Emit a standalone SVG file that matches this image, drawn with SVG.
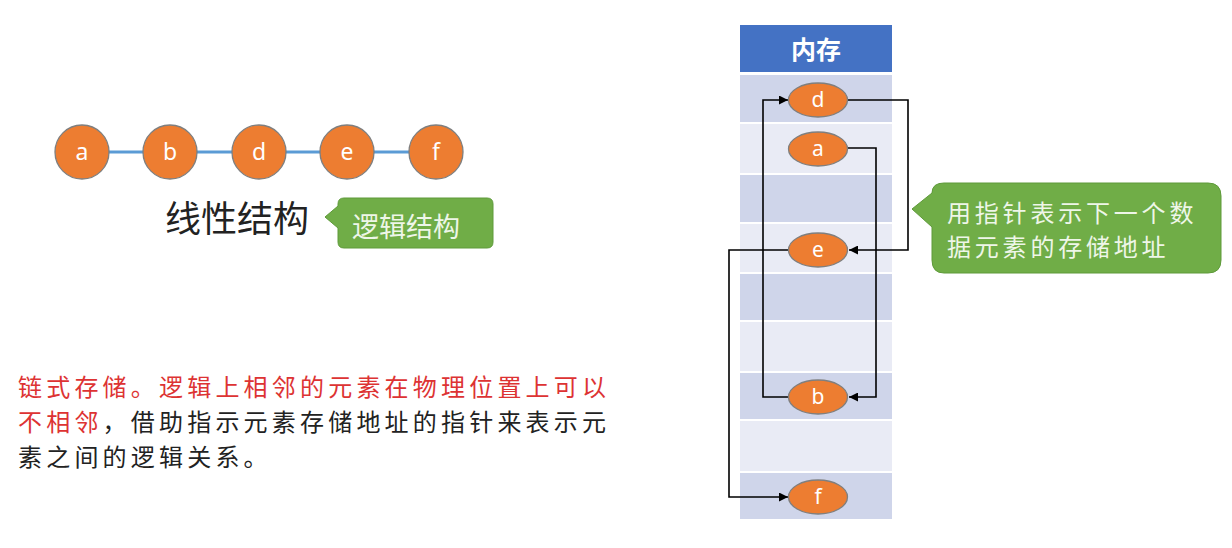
<svg xmlns="http://www.w3.org/2000/svg" width="1232" height="548" viewBox="0 0 1232 548">
<style>
.node{fill:#ED7D31;stroke:#7F7F7F;stroke-width:1.3}
.lbl{font-family:"Noto Sans","Liberation Sans",sans-serif;fill:#FFFFFF;text-anchor:middle}
.cjk{font-family:"Noto Sans CJK SC","Noto Sans",sans-serif}
.dark{fill:#CFD5EA}
.light{fill:#E9EBF5}
.conn{fill:none;stroke:#000;stroke-width:1.6}
.callout{fill:#70AD47;stroke:#5E9A3A;stroke-width:1}
.desc{font-size:24px;letter-spacing:4.2px}
.ctext{font-size:24px;letter-spacing:3.8px;fill:#EEF6E8}
</style>
<defs>
<marker id="arr" viewBox="0 0 10 10" refX="10" refY="5" markerWidth="9" markerHeight="9" markerUnits="userSpaceOnUse" orient="auto">
<path d="M0,0 L10,5 L0,10 Z" fill="#000"/>
</marker>
</defs>
<rect width="1232" height="548" fill="#FFFFFF"/>

<g id="linear">
<line x1="82" y1="152" x2="436" y2="152" stroke="#5B9BD5" stroke-width="3"/>
<g id="la"><circle class="node" cx="82" cy="152" r="27"/><text class="lbl" x="82" y="160" font-size="23">a</text></g>
<g id="lb"><circle class="node" cx="170" cy="152" r="27"/><text class="lbl" x="170" y="160" font-size="23">b</text></g>
<g id="ld"><circle class="node" cx="259" cy="152" r="27"/><text class="lbl" x="259" y="160" font-size="23">d</text></g>
<g id="le"><circle class="node" cx="347" cy="152" r="27"/><text class="lbl" x="347" y="160" font-size="23">e</text></g>
<g id="lf"><circle class="node" cx="436" cy="152" r="27"/><text class="lbl" x="436" y="160" font-size="23">f</text></g>
</g>

<g id="title-linear">
<text class="cjk" x="165" y="232" font-size="36" fill="#222222">线性结构</text>
</g>

<g id="callout-logic">
<path class="callout" d="M344 198 H487 Q493 198 493 204 V242 Q493 248 487 248 H344 Q338 248 338 242 V228 L325 217 L338 206 V204 Q338 198 344 198 Z"/>
<text class="cjk" x="352" y="237" font-size="27" fill="#EEF6E8">逻辑结构</text>
</g>

<g id="desc">
<text class="cjk desc" x="18" y="396" fill="#DD3333">链式存储。逻辑上相邻的元素在物理位置上可以</text>
<text class="cjk desc" x="18" y="431" fill="#222222"><tspan fill="#DD3333">不相邻</tspan>，借助指示元素存储地址的指针来表示元</text>
<text class="cjk desc" x="18" y="466" fill="#222222">素之间的逻辑关系。</text>
</g>

<g id="memory">
<rect x="740" y="25" width="152" height="47" fill="#4472C4"/>
<text class="cjk" x="816" y="59" font-size="25" font-weight="bold" fill="#FFFFFF" text-anchor="middle">内存</text>
<rect class="dark" x="740" y="75" width="152" height="47"/>
<rect class="light" x="740" y="124" width="152" height="49"/>
<rect class="dark" x="740" y="175" width="152" height="47"/>
<rect class="light" x="740" y="224" width="152" height="48"/>
<rect class="dark" x="740" y="274" width="152" height="46"/>
<rect class="light" x="740" y="322" width="152" height="49"/>
<rect class="dark" x="740" y="373" width="152" height="46"/>
<rect class="light" x="740" y="421" width="152" height="50"/>
<rect class="dark" x="740" y="473" width="152" height="46"/>
</g>

<g id="connectors">
<path class="conn" d="M848 100 H908 V250 H849" marker-end="url(#arr)"/>
<path class="conn" d="M848 148 H876 V397 H849" marker-end="url(#arr)"/>
<path class="conn" d="M789 397 H763 V100 H788" marker-end="url(#arr)"/>
<path class="conn" d="M789 250 H729 V497 H788" marker-end="url(#arr)"/>
</g>

<g id="md"><ellipse class="node" cx="818" cy="100" rx="29.5" ry="17"/><text class="lbl" x="818" y="107" font-size="21">d</text></g>
<g id="ma"><ellipse class="node" cx="818" cy="149" rx="29.5" ry="17"/><text class="lbl" x="818" y="156" font-size="21">a</text></g>
<g id="me"><ellipse class="node" cx="818" cy="250" rx="29.5" ry="17"/><text class="lbl" x="818" y="257" font-size="21">e</text></g>
<g id="mb"><ellipse class="node" cx="818" cy="397" rx="29.5" ry="17"/><text class="lbl" x="818" y="404" font-size="21">b</text></g>
<g id="mf"><ellipse class="node" cx="818" cy="497" rx="29.5" ry="17"/><text class="lbl" x="818" y="504" font-size="21">f</text></g>

<g id="callout-pointer">
<path class="callout" d="M944 183 H1208 Q1221 183 1221 196 V260 Q1221 273 1208 273 H944 Q932 273 932 260 V227 L912 209 L932 193 Q932 183 944 183 Z"/>
<text class="cjk ctext" x="947" y="222">用指针表示下一个数</text>
<text class="cjk ctext" x="947" y="256">据元素的存储地址</text>
</g>
</svg>
